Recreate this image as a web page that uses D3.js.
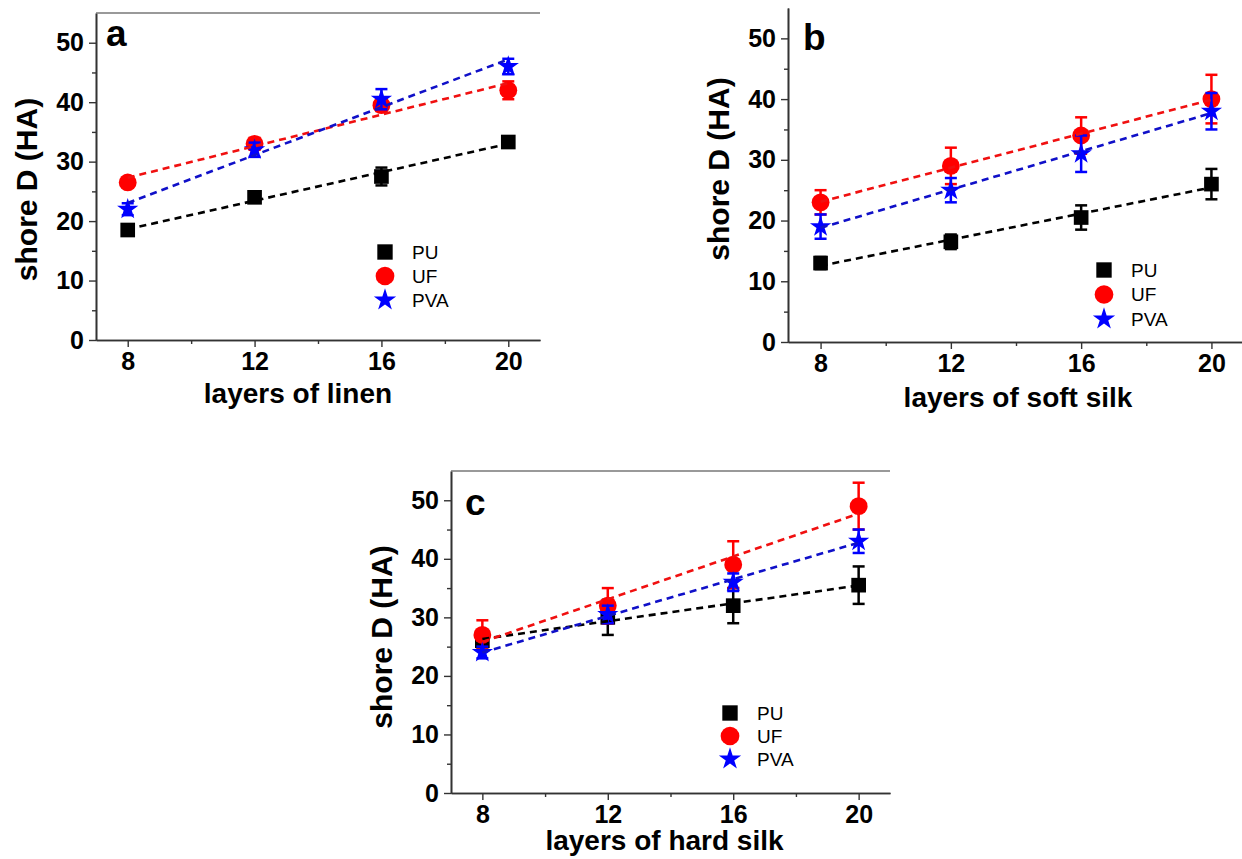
<!DOCTYPE html>
<html>
<head>
<meta charset="utf-8">
<script src="https://cdn.jsdelivr.net/npm/d3@7"></script>
<style>
  body { margin: 0; background: #fff; }
  svg { display: block; }
  text { font-family: "Liberation Sans", Arial, sans-serif; }
</style>
</head>
<body>
<svg id="chart" width="1242" height="859"></svg>
<script>
// ---- data ----
const layers = [8, 12, 16, 20];
const seriesNames = ['PU', 'UF', 'PVA'];
const xTicks = [8, 12, 16, 20];
const xMinorTicks = [10, 14, 18];
const yTicks = [0, 10, 20, 30, 40, 50];
const yMinorTicks = [5, 15, 25, 35, 45];

// a: linen
const linenPU = [18.5, 24, 27.5, 33.3];
const linenPUErr = [0.8, 0.8, 1.5, 0.8];
const linenUF = [26.5, 33, 39.5, 42];
const linenUFErr = [0.8, 1.0, 1.0, 1.5];
const linenPVA = [22, 32, 40.5, 46];
const linenPVAErr = [1.0, 1.2, 1.7, 1.3];

// b: soft silk
const softPU = [13, 16.5, 20.5, 26];
const softPUErr = [1.0, 1.2, 2.0, 2.5];
const softUF = [23, 29, 34, 40];
const softUFErr = [2, 3, 3, 4];
const softPVA = [19, 25, 31, 38];
const softPVAErr = [2, 2, 3, 3];

// c: hard silk
const hardPU = [26, 30, 32, 35.5];
const hardPUErr = [1.5, 3, 3, 3.2];
const hardUF = [27, 32, 39, 49];
const hardUFErr = [2.5, 3, 4, 4];
const hardPVA = [24, 30.5, 36, 43];
const hardPVAErr = [1, 1.5, 1.5, 2];

const colors = { PU: '#000000', UF: '#ff0000', PVA: '#0000ff' };
const lineColors = { PU: '#000000', UF: '#f01010', PVA: '#1010c8' };
const symbols = { PU: d3.symbolSquare, UF: d3.symbolCircle, PVA: d3.symbolStar };
const symbolSize = { PU: 215, UF: 250, PVA: 140 };

const panels = [
  { label: 'a', title: 'layers of linen', values: [linenPU, linenUF, linenPVA], errs: [linenPUErr, linenUFErr, linenPVAErr],
    left: 96, right: 540, top: 13, bottom: 340, frameTop: true,
    labelPos: [10, 33], titleDx: -20, titleDy: 63, yTitleDy: 13, legend: [385, 252, 24] },
  { label: 'b', title: 'layers of soft silk', values: [softPU, softUF, softPVA], errs: [softPUErr, softUFErr, softPVAErr],
    left: 788, right: 1244, top: 8, bottom: 342, frameTop: false,
    labelPos: [15, 42], titleDx: 2, titleDy: 65, yTitleDy: -6, legend: [1104, 270, 24.5] },
  { label: 'c', title: 'layers of hard silk', values: [hardPU, hardUF, hardPVA], errs: [hardPUErr, hardUFErr, hardPVAErr],
    left: 451, right: 890, top: 471, bottom: 793, frameTop: true,
    labelPos: [14, 44], titleDx: -6, titleDy: 57, yTitleDy: 5, legend: [730, 713, 23] }
];

const svg = d3.select('#chart');
svg.append('rect').attr('width', 1242).attr('height', 859).attr('fill', '#fff');

function linearFit(xs, ys) {
  const mx = d3.mean(xs), my = d3.mean(ys);
  const slope = d3.sum(xs, (x, i) => (x - mx) * (ys[i] - my)) / d3.sum(xs, x => (x - mx) * (x - mx));
  return x => my + slope * (x - mx);
}

panels.forEach(function (p) {
  const x = d3.scaleLinear().domain([7, 21]).range([p.left, p.right]);
  const y = d3.scaleLinear().domain([0, 55]).range([p.bottom, p.top]);
  const g = svg.append('g').attr('class', 'panel-' + p.label);

  // axes
  const xAxis = g.append('g').attr('transform', 'translate(0,' + p.bottom + ')')
    .call(d3.axisBottom(x).tickValues(xTicks).tickSize(7).tickSizeOuter(0).tickPadding(5));
  g.append('g').attr('transform', 'translate(0,' + p.bottom + ')')
    .call(d3.axisBottom(x).tickValues(xMinorTicks).tickSize(4).tickSizeOuter(0).tickFormat(''));
  const yAxis = g.append('g').attr('transform', 'translate(' + p.left + ',0)')
    .call(d3.axisLeft(y).tickValues(yTicks).tickSize(7).tickSizeOuter(0).tickPadding(5));
  g.append('g').attr('transform', 'translate(' + p.left + ',0)')
    .call(d3.axisLeft(y).tickValues(yMinorTicks).tickSize(4).tickSizeOuter(0).tickFormat(''));

  g.selectAll('.domain').attr('stroke', '#333').attr('stroke-width', 1.6);
  g.selectAll('.tick line').attr('stroke', '#333').attr('stroke-width', 1.4);
  xAxis.selectAll('text').attr('font-size', 25).attr('font-weight', 'bold').attr('fill', '#000');
  yAxis.selectAll('text').attr('font-size', 25).attr('font-weight', 'bold').attr('fill', '#000');

  if (p.frameTop) {
    g.append('line').attr('x1', p.left).attr('x2', p.right).attr('y1', p.top).attr('y2', p.top)
      .attr('stroke', '#777').attr('stroke-width', 1.6);
  }

  // axis titles
  g.append('text')
    .attr('x', x(14) + p.titleDx).attr('y', p.bottom + p.titleDy)
    .attr('text-anchor', 'middle').attr('font-size', 28).attr('font-weight', 'bold')
    .text(p.title);
  g.append('text')
    .attr('transform', 'translate(' + (p.left - 59) + ',' + ((p.top + p.bottom) / 2 + p.yTitleDy) + ') rotate(-90)')
    .attr('text-anchor', 'middle').attr('font-size', 30).attr('font-weight', 'bold')
    .text('shore D (HA)');

  // panel letter
  g.append('text')
    .attr('x', p.left + p.labelPos[0]).attr('y', p.top + p.labelPos[1])
    .attr('font-size', 37).attr('font-weight', 'bold')
    .text(p.label);

  // data: error bars + markers
  seriesNames.forEach(function (name, si) {
    const vals = p.values[si], errs = p.errs[si];
    const s = g.append('g');
    const eb = s.selectAll('g.err').data(layers).enter().append('g').attr('class', 'err')
      .attr('stroke', colors[name]).attr('stroke-width', 2.5);
    eb.append('line')
      .attr('x1', d => x(d)).attr('x2', d => x(d))
      .attr('y1', (d, i) => y(vals[i] - errs[i])).attr('y2', (d, i) => y(vals[i] + errs[i]));
    eb.append('line')
      .attr('x1', d => x(d) - 6).attr('x2', d => x(d) + 6)
      .attr('y1', (d, i) => y(vals[i] + errs[i])).attr('y2', (d, i) => y(vals[i] + errs[i]));
    eb.append('line')
      .attr('x1', d => x(d) - 6).attr('x2', d => x(d) + 6)
      .attr('y1', (d, i) => y(vals[i] - errs[i])).attr('y2', (d, i) => y(vals[i] - errs[i]));
    s.selectAll('path.pt').data(layers).enter().append('path').attr('class', 'pt')
      .attr('d', d3.symbol().type(symbols[name]).size(symbolSize[name]))
      .attr('transform', (d, i) => 'translate(' + x(d) + ',' + y(vals[i]) + ')')
      .attr('fill', colors[name]);
  });

  // linear fits (dashed)
  seriesNames.forEach(function (name, si) {
    const f = linearFit(layers, p.values[si]);
    g.append('line')
      .attr('x1', x(8)).attr('y1', y(f(8)))
      .attr('x2', x(20)).attr('y2', y(f(20)))
      .attr('stroke', lineColors[name]).attr('stroke-width', 2.6)
      .attr('stroke-dasharray', '7,5');
  });

  // legend
  const lg = g.append('g');
  seriesNames.forEach(function (name, si) {
    const ly = p.legend[1] + si * p.legend[2];
    lg.append('path')
      .attr('d', d3.symbol().type(symbols[name]).size(symbolSize[name] * 1.1))
      .attr('transform', 'translate(' + p.legend[0] + ',' + ly + ')')
      .attr('fill', colors[name]);
    lg.append('text')
      .attr('x', p.legend[0] + 27).attr('y', ly).attr('dy', '0.36em')
      .attr('font-size', 19).attr('fill', '#000')
      .text(name);
  });
});
</script>
</body>
</html>
